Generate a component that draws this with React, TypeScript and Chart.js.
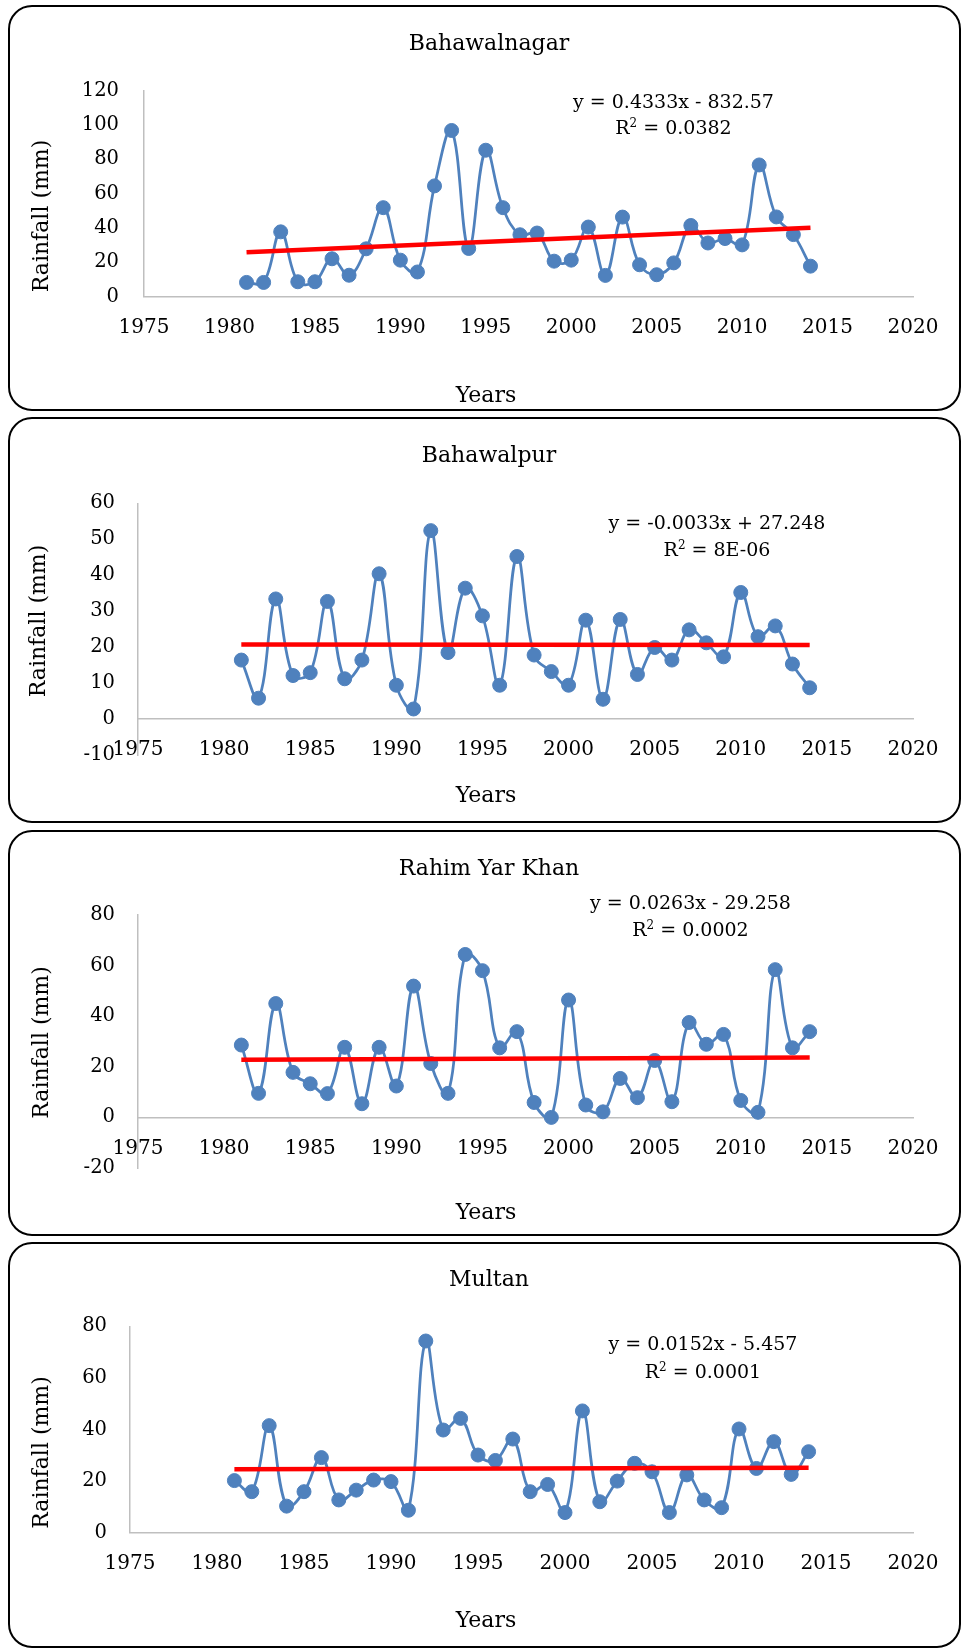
import React, { useEffect, useRef } from 'react';
import { Chart, registerables } from 'chart.js';

Chart.register(...registerables);

// ---------- data ----------
const years = [
  1981, 1982, 1983, 1984, 1985, 1986, 1987, 1988, 1989, 1990,
  1991, 1992, 1993, 1994, 1995, 1996, 1997, 1998, 1999, 2000,
  2001, 2002, 2003, 2004, 2005, 2006, 2007, 2008, 2009, 2010,
  2011, 2012, 2013, 2014,
];

const bahawalnagar = [
  8.2, 8.2, 37.7, 8.6, 8.6, 22.0, 12.4, 27.8, 51.8, 21.2,
  14.3, 64.5, 96.8, 28.0, 85.3, 51.8, 36.0, 37.0, 20.6, 21.2,
  40.5, 12.3, 46.3, 18.5, 12.7, 19.6, 41.4, 31.2, 33.8, 30.1,
  76.7, 46.4, 36.1, 17.7,
];

const bahawalpur = [
  16.4, 5.8, 33.4, 12.1, 12.9, 32.7, 11.2, 16.4, 40.4, 9.4,
  2.8, 52.4, 18.5, 36.4, 28.7, 9.4, 45.2, 17.8, 13.2, 9.4,
  27.5, 5.5, 27.7, 12.4, 19.9, 16.4, 24.8, 21.2, 17.3, 35.2,
  22.9, 25.9, 15.3, 8.7,
];

const rahimYarKhan = [
  28.6, 9.5, 45.0, 17.8, 13.3, 9.4, 27.7, 5.4, 27.7, 12.4,
  51.9, 21.3, 9.5, 64.4, 58.0, 27.5, 33.9, 5.9, 0.0, 46.4,
  4.9, 2.2, 15.4, 7.8, 22.5, 6.2, 37.5, 28.9, 32.8, 6.7,
  2.0, 58.4, 27.5, 33.9,
];

const multan = [
  20.2, 15.9, 41.5, 10.3, 15.9, 29.1, 12.7, 16.5, 20.4, 19.8,
  8.7, 74.3, 39.8, 44.3, 30.1, 28.0, 36.3, 15.9, 18.7, 7.8,
  47.2, 12.0, 20.0, 26.9, 23.6, 7.8, 22.4, 12.7, 9.7, 40.2,
  24.9, 35.3, 22.6, 31.4,
];

const trendYears = [1981, 2014];
const trendBahawalnagar = [25.8, 40.1];
const trendBahawalpur = [20.7, 20.6];
const trendRahimYarKhan = [22.8, 23.7];
const trendMultan = [24.6, 25.2];

const stationNames = ['Bahawalnagar', 'Bahawalpur', 'Rahim Yar Khan', 'Multan'];
const equations = [
  'y = 0.4333x - 832.57',
  'y = -0.0033x + 27.248',
  'y = 0.0263x - 29.258',
  'y = 0.0152x - 5.457',
];
const rSquared = ['0.0382', '8E-06', '0.0002', '0.0001'];

const yMins = [0, -10, -20, 0];
const yMaxs = [120, 60, 80, 80];
const ySteps = [20, 10, 20, 20];

const xMin = 1975;
const xMax = 2020;
const xStep = 5;

const seriesList = [bahawalnagar, bahawalpur, rahimYarKhan, multan];
const trendList = [trendBahawalnagar, trendBahawalpur, trendRahimYarKhan, trendMultan];

const xAxisTitle = 'Years';
const yAxisTitle = 'Rainfall (mm)';

// ---------- layout (positions relative to each panel's top) ----------
const PANEL_H = 406;
const CANVAS_W = 962;
const PLOT_RIGHT = 913;
const layouts = [
  { top: 5, areaTop: 85.7, areaBottom: 291.5, left: 144, gap: 25, titleY: 37, yTitleX: 40, yTitleY: 211, yearsY: 389, eqX: 673.5, eq1: 95.7, eq2: 122 },
  { top: 417, areaTop: 86.3, areaBottom: 338, left: 138, gap: 23, titleY: 37, yTitleX: 37, yTitleY: 204, yearsY: 376.5, eqX: 717, eq1: 104.7, eq2: 132.3 },
  { top: 830, areaTop: 85, areaBottom: 338, left: 138, gap: 23, titleY: 36.7, yTitleX: 40, yTitleY: 212.5, yearsY: 381, eqX: 690.5, eq1: 71.7, eq2: 99.3 },
  { top: 1242, areaTop: 84.3, areaBottom: 290.7, left: 130, gap: 23, titleY: 36, yTitleX: 40, yTitleY: 210.5, yearsY: 377, eqX: 703, eq1: 101.3, eq2: 129 },
];

const FONT = '"DejaVu Serif", "Liberation Serif", serif';
const BLUE = '#4f81bd';
const RED = '#ff0000';
const AXIS = '#bfbfbf';

const textPlugin = {
  id: 'panelText',
  afterDraw(chart: any, _args: any, opts: any) {
    const ctx = chart.ctx as CanvasRenderingContext2D;
    const L = opts.layout;
    ctx.save();
    ctx.fillStyle = '#000';
    ctx.textBaseline = 'alphabetic';
    ctx.textAlign = 'center';

    // chart title
    ctx.font = `22px ${FONT}`;
    ctx.fillText(opts.title, 489, L.titleY + 8);
    // x-axis title
    ctx.fillText(xAxisTitle, 486, L.yearsY + 8);
    // y-axis title
    ctx.save();
    ctx.translate(L.yTitleX + 8, L.yTitleY);
    ctx.rotate(-Math.PI / 2);
    ctx.fillText(yAxisTitle, 0, 0);
    ctx.restore();

    // equation
    ctx.font = `19px ${FONT}`;
    ctx.fillText(opts.equation, L.eqX, L.eq1 + 7);

    // R² line
    ctx.textAlign = 'left';
    const rest = ' = ' + opts.r2;
    const wR = ctx.measureText('R').width;
    const wRest = ctx.measureText(rest).width;
    ctx.font = `12px ${FONT}`;
    const w2 = ctx.measureText('2').width;
    const total = wR + w2 + wRest;
    const sx = L.eqX - total / 2;
    const base = L.eq2 + 7;
    ctx.font = `19px ${FONT}`;
    ctx.fillText('R', sx, base);
    ctx.font = `12px ${FONT}`;
    ctx.fillText('2', sx + wR, base - 7);
    ctx.font = `19px ${FONT}`;
    ctx.fillText(rest, sx + wR + w2, base);
    ctx.restore();
  },
};

function Panel({ index }: { index: number }) {
  const ref = useRef<HTMLCanvasElement | null>(null);
  const L = layouts[index];

  useEffect(() => {
    if (!ref.current) return;
    const values = seriesList[index];
    const trend = trendList[index];
    const chart = new Chart(ref.current, {
      type: 'line',
      data: {
        datasets: [
          {
            data: trendYears.map((yr, i) => ({ x: yr, y: trend[i] })),
            borderColor: RED,
            borderWidth: 4.5,
            pointRadius: 0,
            tension: 0,
            order: 0,
            clip: false,
          } as any,
          {
            data: years.map((yr, i) => ({ x: yr, y: values[i] })),
            borderColor: BLUE,
            backgroundColor: BLUE,
            borderWidth: 2.75,
            pointRadius: 7,
            pointBorderWidth: 1,
            pointBackgroundColor: BLUE,
            pointBorderColor: BLUE,
            tension: 0.4,
            order: 1,
            clip: false,
          } as any,
        ],
      },
      options: {
        responsive: false,
        animation: false,
        devicePixelRatio: 1,
        events: [],
        layout: {
          padding: {
            left: 0,
            right: CANVAS_W - PLOT_RIGHT,
            top: L.areaTop,
            bottom: PANEL_H - L.areaBottom,
          },
        },
        plugins: {
          legend: { display: false },
          tooltip: { enabled: false },
          title: { display: false },
          panelText: {
            layout: L,
            title: stationNames[index],
            equation: equations[index],
            r2: rSquared[index],
          },
        } as any,
        scales: {
          x: {
            type: 'linear',
            position: { y: 0 } as any,
            min: xMin,
            max: xMax,
            ticks: {
              stepSize: xStep,
              autoSkip: false,
              maxRotation: 0,
              padding: 19,
              color: '#000',
              font: { family: FONT, size: 20 },
              callback: (v: any) => String(v),
            },
            grid: { display: false, drawTicks: false },
            border: { display: true, color: AXIS, width: 1.5 },
          },
          y: {
            type: 'linear',
            position: 'left',
            min: yMins[index],
            max: yMaxs[index],
            ticks: {
              stepSize: ySteps[index],
              padding: L.gap,
              color: '#000',
              font: { family: FONT, size: 19.5 },
              callback: (v: any) => String(v),
            },
            grid: { display: false, drawTicks: false },
            border: { display: true, color: AXIS, width: 1.5 },
            afterFit: (s: any) => {
              s.width = L.left;
            },
          },
        },
      } as any,
      plugins: [textPlugin as any],
    });
    return () => chart.destroy();
  }, [index]);

  return (
    <>
      <div
        style={{
          position: 'absolute',
          left: 8,
          top: L.top,
          width: 953,
          height: PANEL_H,
          boxSizing: 'border-box',
          border: '2px solid #000',
          borderRadius: 24,
        }}
      />
      <canvas
        ref={ref}
        width={CANVAS_W}
        height={PANEL_H}
        style={{ position: 'absolute', left: 0, top: L.top, width: CANVAS_W, height: PANEL_H }}
      />
    </>
  );
}

export default function App() {
  return (
    <div style={{ position: 'absolute', left: 0, top: 0, width: 962, height: 1648, background: '#fff', overflow: 'hidden' }}>
      {stationNames.map((_, i) => (
        <Panel key={i} index={i} />
      ))}
    </div>
  );
}
